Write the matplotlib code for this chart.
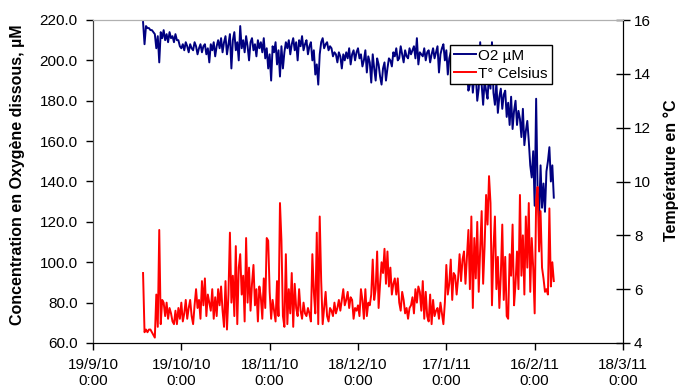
import matplotlib
matplotlib.use("Agg")
import matplotlib.pyplot as plt
import pandas as pd

plt.rcParams['font.family'] = ['Liberation Sans', 'DejaVu Sans']

# ---- data (two readings per day, starting 6 Oct 2010) ----
start_time = "2010-10-06 00:00"
o2_um = [
    219, 208, 217, 216, 216, 215, 215, 214, 213, 206,
    212, 199, 214, 211, 215, 210, 213, 209, 214, 211,
    212, 209, 213, 210, 210, 207, 206, 208, 205, 209,
    207, 204, 208, 206, 205, 209, 207, 203, 206, 208,
    204, 207, 208, 203, 206, 199, 208, 205, 209, 202,
    207, 210, 206, 211, 204, 209, 212, 203, 208, 213,
    196, 210, 214, 205, 209, 200, 217, 206, 210, 204,
    212, 207, 200, 209, 211, 205, 208, 202, 210, 206,
    209, 204, 211, 201, 206, 196, 203, 190, 207, 204,
    209, 198, 205, 192, 207, 196, 204, 209, 206, 210,
    203, 208, 211, 205, 209, 200, 210, 207, 212, 205,
    208, 210, 203, 207, 209, 200, 205, 193, 198, 188,
    203, 209, 211, 206, 208, 209, 205, 207, 206, 202,
    204, 203, 199, 204, 202, 196, 203, 200, 204, 201,
    206, 198, 203, 205, 200, 204, 206, 201, 203, 197,
    200, 205, 194, 202, 199, 189, 203, 196, 190, 201,
    198, 192, 188, 196, 199, 190, 196, 201, 200, 197,
    204, 202, 206, 200, 201, 207, 203, 199, 205, 202,
    201, 206, 203, 205, 207, 201, 211, 198, 204, 203,
    202, 206, 200, 204, 205, 199, 203, 206, 201, 204,
    207, 194, 203, 206, 208, 200, 205, 193, 201, 204,
    198, 202, 203, 196, 205, 199, 201, 204, 199, 190,
    195, 185, 188, 196, 184, 192, 193, 180, 186, 209,
    188, 178, 190, 185, 181, 194, 186, 209, 184, 178,
    189, 174, 182, 186, 176, 183, 185, 172, 179, 168,
    182, 166, 175, 180, 168, 175, 171, 162, 176, 158,
    165, 170, 160, 148, 142, 155, 128, 181, 135, 122,
    148, 127, 139, 125, 145, 150, 157, 140, 148, 132,
]
temp_c = [
    6.6, 4.4, 4.5, 4.4, 4.5, 4.5, 4.4, 4.3, 4.2, 5.8,
    4.6, 8.2, 4.7, 5.6, 5.5, 5.0, 5.5, 4.9, 5.3, 5.1,
    4.8, 4.7, 5.2, 4.7, 5.3, 4.9, 5.5, 4.8, 5.1, 5.6,
    4.9, 5.3, 5.6, 5.0, 4.7, 5.4, 6.0, 5.3, 5.6, 4.9,
    6.3, 5.4, 6.4, 5.0, 5.8, 5.5, 5.2, 6.0, 4.9, 5.7,
    5.0, 6.0, 5.4, 6.1, 5.2, 4.6, 6.3, 4.5, 5.8, 8.1,
    5.5, 6.5, 5.0, 7.6, 4.7, 6.8, 7.3, 5.8, 6.5, 4.8,
    7.9, 5.5, 6.8, 5.2, 6.2, 6.9, 5.4, 6.0, 4.8, 6.1,
    5.7, 4.9, 6.4, 5.3, 7.9, 7.8, 5.9, 4.9, 5.6, 5.2,
    4.8, 6.3, 5.0, 9.2, 7.8, 5.0, 4.6, 7.3, 4.7, 6.0,
    5.1, 6.6, 4.6, 6.2, 5.3, 5.0, 6.0, 5.2, 4.9, 5.5,
    5.1, 5.0, 5.3, 5.1, 4.8, 7.3, 5.9, 5.1, 8.1, 4.7,
    8.7, 6.3, 4.7, 5.3, 5.9, 5.0, 4.8, 5.3, 5.2, 5.0,
    5.5, 5.1, 5.3, 5.6, 5.2, 5.6, 6.0, 5.4, 5.6, 5.9,
    5.3, 5.7, 5.6, 4.9, 5.3, 5.2, 5.4, 5.0, 6.0, 5.6,
    4.9, 6.0, 5.0, 5.5, 5.4, 5.8, 7.1, 5.6, 6.0, 7.4,
    5.3, 6.2, 7.0, 6.6, 7.5, 6.2, 7.4, 6.1, 6.8, 5.8,
    6.2, 6.4, 5.8, 6.4, 5.5, 5.2, 5.9, 5.6, 5.1, 5.3,
    4.9, 5.3, 5.4, 5.7, 5.1, 6.0, 5.5, 6.1, 5.9, 5.2,
    6.3, 4.9, 5.9, 5.0, 4.8, 5.8, 4.7, 5.6, 5.0, 5.2,
    5.3, 4.9, 5.5, 5.1, 4.7, 5.5, 6.9, 5.8, 6.2, 7.1,
    5.6, 6.6, 6.5, 5.8, 6.4, 7.3, 6.3, 7.1, 7.4, 6.2,
    7.2, 8.2, 6.0, 8.7, 5.3, 7.9, 6.4, 8.5, 5.9, 7.5,
    8.9, 6.2, 7.6, 9.5, 8.4, 10.2, 9.2, 5.4, 7.5, 8.7,
    6.0, 7.2, 5.3, 6.5, 8.4, 5.6, 7.2, 5.0, 4.9, 7.3,
    6.5, 8.4, 5.4, 6.2, 7.4, 6.0, 9.5, 6.5, 8.0, 5.8,
    8.7, 6.8, 9.2, 5.9, 7.9, 6.8, 5.1, 9.3, 9.8, 7.4,
    8.9, 6.8, 6.4, 5.9, 6.0, 5.8, 9.0, 6.1, 7.0, 6.3,
]
tick_dates = ["2010-09-19", "2010-10-19", "2010-11-18", "2010-12-18",
              "2011-01-17", "2011-02-16", "2011-03-18"]
tick_labels = ["19/9/10\n0:00", "19/10/10\n0:00", "18/11/10\n0:00",
               "18/12/10\n0:00", "17/1/11\n0:00", "16/2/11\n0:00",
               "18/3/11\n0:00"]
left_ticks = [60, 80, 100, 120, 140, 160, 180, 200, 220]
right_ticks = [4, 6, 8, 10, 12, 14, 16]

t_o2 = pd.date_range(start_time, periods=len(o2_um), freq="12h")
t_temp = pd.date_range(start_time, periods=len(temp_c), freq="12h")
tick_pos = pd.to_datetime(tick_dates)

fig = plt.figure(figsize=(6.81, 3.90), dpi=100)
ax = fig.add_axes([93 / 681, 1 - 343 / 390, 530 / 681, 323 / 390])
ax2 = ax.twinx()

l1, = ax.plot(t_o2, o2_um, color="#000080", lw=1.4, label="O2 µM")
l2, = ax2.plot(t_temp, temp_c, color="#FF0000", lw=1.4, label="T° Celsius")

ax.set_xlim(tick_pos[0], tick_pos[-1])
ax.set_ylim(60, 220)
ax2.set_ylim(4, 16)

ax.set_xticks(tick_pos)
ax.set_xticklabels(tick_labels, fontsize=11, linespacing=1.2)
ax.set_yticks(left_ticks)
ax.set_yticklabels([f"{v:.1f}" for v in left_ticks], fontsize=11)
ax2.set_yticks(right_ticks)
ax2.set_yticklabels([str(v) for v in right_ticks], fontsize=11)

ax.tick_params(axis="x", direction="out", length=5, width=1, pad=6, colors="black")
ax.tick_params(axis="y", direction="out", length=5, width=1, pad=6, colors="black")
ax2.tick_params(axis="y", direction="inout", length=10, width=1, pad=3, colors="black")

for a in (ax, ax2):
    a.spines["top"].set_color("#b0b0b0")
    a.spines["left"].set_color("#404040")
    a.spines["bottom"].set_color("black")
    a.spines["right"].set_color("black")

ax.set_ylabel("Concentration en Oxygène dissous, µM", fontsize=11.5, fontweight="bold")
ax.yaxis.set_label_coords(-0.128, 0.52)
ax2.set_ylabel("Température en °C", fontsize=11.5, fontweight="bold")
ax2.yaxis.set_label_coords(1.077, 0.535)

leg = ax2.legend(handles=[l1, l2], loc="upper left",
                 bbox_to_anchor=(450 / 681, 1 - 45 / 390),
                 bbox_transform=fig.transFigure, fontsize=11,
                 frameon=True, fancybox=False, framealpha=1,
                 edgecolor="black", handlelength=1.45, handletextpad=0.15,
                 labelspacing=0.25, borderpad=0.25, borderaxespad=0)
leg.get_frame().set_linewidth(1.0)

fig.savefig("out.png", dpi=100, facecolor="white")
